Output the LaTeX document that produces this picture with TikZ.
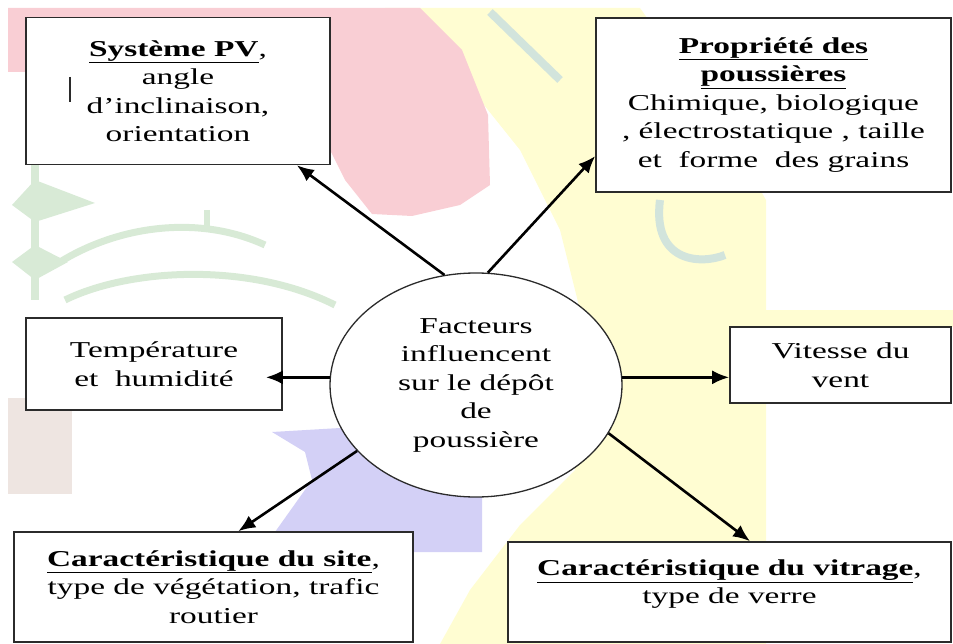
\documentclass[tikz,border=0pt]{standalone}
\usepackage{fontspec}
\setmainfont{Liberation Serif}[FakeStretch=1.47]
\usetikzlibrary{shapes.geometric,arrows.meta,calc}

\definecolor{rose}{HTML}{F9CED4}
\definecolor{jaune}{HTML}{FFFDD2}
\definecolor{lilas}{HTML}{D3D0F6}
\definecolor{vertpale}{HTML}{D8EAD6}
\definecolor{vertgris}{HTML}{D2E4DC}
\definecolor{beige}{HTML}{EEE5E1}
\definecolor{trait}{HTML}{2B2B2B}

\begin{document}
\begin{tikzpicture}[x=1pt,y=-1pt,
	font=\fontsize{22.7}{28.5}\selectfont,
	facteur/.style={draw=trait, line width=1.6pt, fill=white, align=center, inner sep=0pt},
	centre/.style={ellipse, draw=trait, line width=1.3pt, fill=white, align=center, inner sep=0pt},
	fleche/.style={-{Latex[length=17pt,width=14pt]}, line width=2.6pt}]
	\useasboundingbox (0,0) rectangle (953,644);
	
	% watermark behind the diagram
	\fill[jaune] (385,8) -- (640,8) -- (720,120) -- (766,200) -- (766,644) -- (440,644)
	-- (470,590) -- (520,525) -- (575,470) -- (585,330) -- (560,230) -- (520,150) -- (460,75) -- cycle;
	\fill[jaune] (680,310) rectangle (953,327);
	\fill[rose] (8,8) -- (420,8) -- (462,50) -- (488,115) -- (490,185) -- (460,205) -- (412,216)
	-- (372,214) -- (345,180) -- (330,150) -- (300,100) -- (240,72) -- (8,72) -- cycle;
	\fill[lilas] (272,432) -- (340,428) -- (420,480) -- (482,492) -- (482,552) -- (413,552)
	-- (413,532) -- (275,532) -- (312,480) -- (305,452) -- cycle;
	\fill[beige] (8,398) rectangle (72,494);
	% leaves on the left
	\draw[vertpale, line width=8pt] (35,150) -- (35,300);
	\fill[vertpale] (12,205) -- (35,180) -- (95,203) -- (35,222) -- cycle;
	\fill[vertpale] (12,262) -- (35,245) -- (68,262) -- (35,280) -- cycle;
	\draw[vertpale, line width=7pt] (60,262) .. controls (120,225) and (200,215) .. (265,245);
	\draw[vertpale, line width=7pt] (65,300) .. controls (130,268) and (250,262) .. (335,305);
	\draw[vertpale, line width=6pt] (207,210) -- (207,232);
	\draw[vertgris, line width=8pt] (660,200) .. controls (652,262) and (700,265) .. (725,255);
	\draw[vertgris, line width=8pt] (490,12) -- (560,80);
	
	% central node
	\node[centre, minimum width=292pt, minimum height=224pt] (fac) at (476,385)
	{Facteurs\\ influencent\\ sur le dépôt\\ de\\ poussière};
	
	% factor boxes
	\node[facteur, minimum width=304pt, minimum height=147pt] (sys) at (178,91)
	{\underline{\textbf{Système PV}},\\ angle\\ d’inclinaison,\\ orientation};
	\node[facteur, minimum width=355pt, minimum height=174pt] (prop) at (773.5,105)
	{\underline{\textbf{Propriété des}}\\ \underline{\textbf{poussières}}\\ Chimique, biologique\\ , électrostatique , taille\\ et~~forme~~des grains};
	\node[facteur, minimum width=256pt, minimum height=92pt] (temp) at (154,364)
	{Température\\ et~~humidité};
	\node[facteur, minimum width=221pt, minimum height=76pt] (vit) at (840.5,365)
	{Vitesse du\\ vent};
	\node[facteur, minimum width=399pt, minimum height=110pt] (site) at (213.5,587)
	{\underline{\textbf{Caractéristique du site}},\\ type de végétation, trafic\\ routier};
	\node[facteur, minimum width=443pt, minimum height=100pt] (vitr) at (729.5,592)
	{\underline{\textbf{Caractéristique du vitrage}},\\ type de verre\vphantom{p}\\[-8pt]};
	
	% stray cursor mark
	\draw[trait, line width=1.4pt] (70,77) -- (70,102);
	
	% arrows from the centre
	\draw[fleche] (fac.106) -- (sys.-32);
	\draw[fleche] (fac.84) -- (prop.196);
	\draw[fleche, shorten >=-17pt] (fac.177) -- (fac.177 -| temp.east);
	\draw[fleche] (fac.3) -- (fac.3 -| vit.west);
	\draw[fleche] (fac.209) -- (site.66);
	\draw[fleche] (fac.-20) -- (vitr.68);
\end{tikzpicture}
\end{document}
